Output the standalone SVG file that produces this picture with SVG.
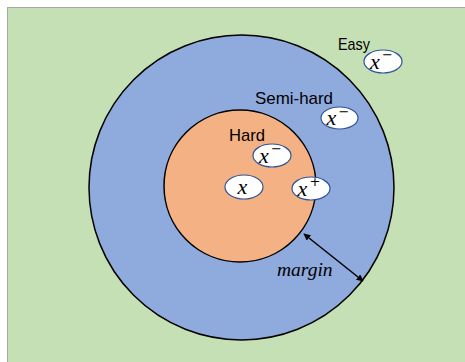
<svg xmlns="http://www.w3.org/2000/svg" width="465" height="362" viewBox="0 0 465 362">
<style>
.lbl{font-family:"Liberation Sans",Arial,sans-serif;font-size:17px;fill:#000}
.math{font-family:"Liberation Serif","Times New Roman",serif;font-style:italic;font-size:22px;fill:#000}
.sup{font-family:"DejaVu Sans","Liberation Sans",sans-serif;font-style:normal;font-size:13px;fill:#000}
.pt{fill:#fff;stroke:#2f5597;stroke-width:1.2}
</style>
<defs>
<marker id="ah" viewBox="0 0 10 10" refX="9" refY="5" markerWidth="7" markerHeight="7" orient="auto-start-reverse" markerUnits="userSpaceOnUse">
<path d="M0,0 L10,5 L0,10 Z" fill="#000"/>
</marker>
</defs>
<rect x="0" y="0" width="465" height="362" fill="#fff"/>
<rect x="7.5" y="7.5" width="460" height="360" fill="#c5e0b4" stroke="#a6a6a6" stroke-width="1"/>
<g id="easy-region">
<circle cx="241.5" cy="187.5" r="152.5" fill="#8faadc" stroke="#000" stroke-width="1.5"/>
</g>
<g id="hard-region">
<circle cx="240" cy="186" r="76" fill="#f4b183" stroke="#000" stroke-width="1.5"/>
</g>
<g id="labels">
<text class="lbl" x="338" y="50" textLength="32" lengthAdjust="spacingAndGlyphs">Easy</text>
<text class="lbl" x="255" y="104" textLength="78" lengthAdjust="spacingAndGlyphs">Semi-hard</text>
<text class="lbl" x="229" y="141" textLength="36" lengthAdjust="spacingAndGlyphs">Hard</text>
</g>
<g id="easy-neg">
<ellipse class="pt" cx="383" cy="61.5" rx="19" ry="11.5"/>
<text class="math" x="370" y="68.5">x</text><text class="sup" x="382" y="59">−</text>
</g>
<g id="semihard-neg">
<ellipse class="pt" cx="339.5" cy="118" rx="18.5" ry="11"/>
<text class="math" x="326.5" y="125">x</text><text class="sup" x="338.5" y="115.5">−</text>
</g>
<g id="hard-neg">
<ellipse class="pt" cx="272" cy="155.5" rx="19" ry="11.5"/>
<text class="math" x="259" y="162.5">x</text><text class="sup" x="271" y="153">−</text>
</g>
<g id="anchor">
<ellipse class="pt" cx="244" cy="187" rx="19" ry="12"/>
<text class="math" x="237.5" y="194">x</text>
</g>
<g id="positive">
<ellipse class="pt" cx="311" cy="188.5" rx="19" ry="11.5"/>
<text class="math" x="297.5" y="195.5">x</text><text class="sup" x="309.5" y="186">+</text>
</g>
<g id="connectors">
<line x1="304" y1="234" x2="363" y2="281" stroke="#000" stroke-width="1.5" marker-start="url(#ah)" marker-end="url(#ah)"/>
<text class="math" x="277" y="276" style="font-size:19.5px">margin</text>
</g>
</svg>
